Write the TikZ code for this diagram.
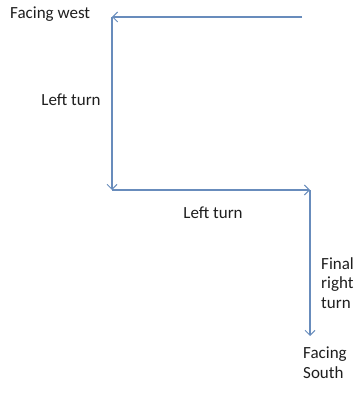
\documentclass[tikz,border=0pt]{standalone}
\usepackage{fontspec}
\setmainfont{Carlito}
\usetikzlibrary{arrows.meta}
\definecolor{lineblue}{RGB}{104,140,188}
\definecolor{txt}{RGB}{30,30,30}
\begin{document}
\begin{tikzpicture}[x=1pt,y=-1pt,
  conn/.style={draw=lineblue,line width=1.2pt,-{Straight Barb[length=5pt,width=10pt,line width=1pt]}},
  lbl/.style={text=txt,font=\fontsize{17}{19.5}\selectfont,inner sep=0pt}]
\useasboundingbox (0,0) rectangle (359,403);
\coordinate (start) at (302,17);
\coordinate (c1) at (112,17);
\coordinate (c2) at (112,190);
\coordinate (c3) at (310,190);
\coordinate (c4) at (310,336);
\draw[conn] (start) -- (c1);
\draw[conn] (c1) -- (c2);
\draw[conn] (c2) -- (c3);
\draw[conn] (c3) -- (c4);
\node[lbl,anchor=west] (fw) at (10,14) {Facing west};
\node[lbl] (lt1) at (71,100) {Left turn};
\node[lbl] (lt2) at (213,213) {Left turn};
\node[lbl,anchor=north west,align=left] (frt) at (321,257) {Final\\right\\turn};
\node[lbl,anchor=north west,align=left] (fs) at (303,347) {Facing\\South};
\end{tikzpicture}
\end{document}
